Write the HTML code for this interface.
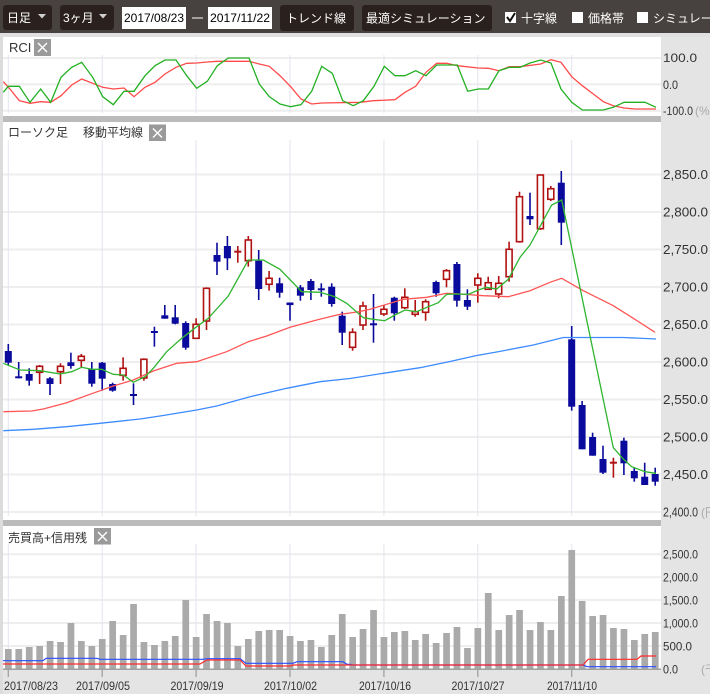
<!DOCTYPE html>
<html><head><meta charset="utf-8">
<style>
html,body{margin:0;padding:0;background:#e4e4e4;}
svg{display:block;font-family:"Liberation Sans","Noto Sans CJK JP",sans-serif;}
</style></head>
<body>
<svg width="710" height="694" viewBox="0 0 710 694" xmlns="http://www.w3.org/2000/svg" style="overflow:hidden">
<rect x="0" y="0" width="710" height="694" fill="#e4e4e4"/>
<!-- toolbar -->
<rect x="0" y="0" width="710" height="33" fill="#47423f"/>
<rect x="3" y="5" width="49" height="25" rx="3" fill="#2a201e"/>
<text x="7" y="22" font-size="12" fill="#fff">日足</text>
<polygon points="38,14 46,14 42,18.5" fill="#cfcfcf"/>
<rect x="60" y="5" width="54" height="25" rx="3" fill="#2a201e"/>
<text x="63" y="22" font-size="12" fill="#fff">3ヶ月</text>
<polygon points="99,14 107,14 103,18.5" fill="#cfcfcf"/>
<rect x="122" y="7" width="64" height="22" fill="#fff"/>
<text x="124" y="22" font-size="12" fill="#000" textLength="60" lengthAdjust="spacingAndGlyphs">2017/08/23</text>
<line x1="192" y1="18" x2="203" y2="18" stroke="#ddd" stroke-width="1.2"/>
<rect x="208" y="7" width="64" height="22" fill="#fff"/>
<text x="210" y="22" font-size="12" fill="#000" textLength="60" lengthAdjust="spacingAndGlyphs">2017/11/22</text>
<rect x="280" y="5" width="74" height="26" rx="3" fill="#2a201e"/>
<text x="286" y="22.5" font-size="12" fill="#fff">トレンド線</text>
<rect x="362" y="5" width="130" height="26" rx="3" fill="#2a201e"/>
<text x="366" y="22.5" font-size="12" fill="#fff">最適シミュレーション</text>
<rect x="505" y="12" width="11" height="11" fill="#fff"/>
<path d="M507,17 L510,21 L515,13" fill="none" stroke="#111" stroke-width="2"/>
<text x="521" y="22.5" font-size="12" fill="#fff">十字線</text>
<rect x="572" y="12" width="11" height="11" fill="#fff"/>
<text x="588" y="22.5" font-size="12" fill="#fff">価格帯</text>
<rect x="637" y="12" width="11" height="11" fill="#fff"/>
<text x="653" y="22.5" font-size="12" fill="#fff">シミュレーション</text>

<!-- panel backgrounds -->
<rect x="0" y="33" width="710" height="4" fill="#e0e0e0"/>
<rect x="3" y="37" width="658" height="79" fill="#fff"/>
<rect x="0" y="116" width="661" height="6" fill="#bbbbbb"/>
<rect x="3" y="122" width="658" height="398" fill="#fff"/>
<rect x="0" y="520" width="661" height="6" fill="#bbbbbb"/>
<rect x="3" y="526" width="658" height="143" fill="#fff"/>

<!-- RCI grid -->
<g stroke="#eeeeee" stroke-width="2">
<line x1="3" y1="58" x2="661" y2="58"/><line x1="3" y1="84.3" x2="661" y2="84.3"/><line x1="3" y1="110.7" x2="661" y2="110.7"/>
</g>
<g stroke="#e4e4ee" stroke-width="1">
<line x1="8.3" y1="55" x2="8.3" y2="113"/><line x1="102.2" y1="55" x2="102.2" y2="113"/><line x1="196.1" y1="55" x2="196.1" y2="113"/><line x1="290" y1="55" x2="290" y2="113"/><line x1="383.9" y1="55" x2="383.9" y2="113"/><line x1="477.8" y1="55" x2="477.8" y2="113"/><line x1="571.7" y1="55" x2="571.7" y2="113"/>
</g>
<text x="9" y="52" font-size="13" fill="#333">RCI</text>
<rect x="34" y="39" width="17" height="17" fill="#9a9a9a"/>
<path d="M38,43 L47,52 M47,43 L38,52" stroke="#fff" stroke-width="1.4"/>
<polyline fill="none" stroke="#ff4a4a" stroke-width="1.3" points="3.3,81.7 10,89 19.3,100.7 30,103.3 40.7,101.7 50.7,102.3 61,95.7 71.7,85 81.7,79 92.7,83.3 102.7,87.3 113.3,89 124,88 134,96.7 145,87.3 155,82.3 165,74 176,67.3 186.7,63.3 196.7,63 207.3,62 217.3,61.3 249,61.3 259.3,64 269.3,66.3 280,75.7 290.7,86.7 301,99 311.7,104 321.7,103 360,102.3 373.3,100.7 395,99.7 405,92.3 415.7,86.3 426,72.3 436.7,63.3 446.7,63.3 457.3,65.7 478.3,68 488.3,68.3 499,70.7 509.3,66.7 520,66.7 540.7,64 551,59.7 561,62.3 571.7,76.7 582.3,85.7 593.3,94 603.3,101.7 613.3,105.7 624,108 635,109 656,109"/>
<polyline fill="none" stroke="#22b022" stroke-width="1.3" points="3.3,92.3 8.3,86.3 19.3,86.3 30,102.3 40.7,89 50.7,102.3 61,77.3 71.7,67.3 81.7,62.3 92.7,77.3 102.7,96.7 113.3,104.7 124,91.3 134,91.3 145,75.7 155,65.7 165,60 176,60 186.7,75.7 196.7,88.3 207.3,81.3 217.3,65.7 228.3,58 249,58 259.3,84 269.3,96.7 280,104 290.7,106.7 301,104.7 311.7,91.3 321.7,66.3 332.3,73.3 342.7,100.7 353.3,105.7 363.3,100.7 374,86.3 384.3,66.3 395,75.7 405,75.7 415.7,70.7 426,75.7 436.7,65 457.3,65 467.7,91.3 478.3,89 488.3,89 499,70.7 509.3,67.3 520,67.3 530,63 540.7,60 551,63 561,89 571.7,102.3 582.3,110 603.3,110 613.3,107.3 624,102.3 645,102.3 656,107.3"/>
<g font-size="12" fill="#333">
<text x="663" y="62" textLength="34" lengthAdjust="spacingAndGlyphs">100.0</text>
<text x="663" y="89" textLength="15" lengthAdjust="spacingAndGlyphs">0.0</text>
<text x="663" y="115" textLength="30" lengthAdjust="spacingAndGlyphs">-100.0</text>
</g>
<text x="695" y="115" font-size="12" fill="#aaa">(%)</text>

<!-- main grid -->
<g stroke="#eeeeee" stroke-width="2">
<line x1="3" y1="174.5" x2="661" y2="174.5"/><line x1="3" y1="212" x2="661" y2="212"/><line x1="3" y1="249.5" x2="661" y2="249.5"/><line x1="3" y1="287" x2="661" y2="287"/><line x1="3" y1="324.5" x2="661" y2="324.5"/><line x1="3" y1="362" x2="661" y2="362"/><line x1="3" y1="399.5" x2="661" y2="399.5"/><line x1="3" y1="437" x2="661" y2="437"/><line x1="3" y1="474.5" x2="661" y2="474.5"/><line x1="3" y1="512" x2="661" y2="512"/>
</g>
<g stroke="#e4e4ee" stroke-width="1">
<line x1="8.3" y1="140" x2="8.3" y2="516"/><line x1="102.2" y1="140" x2="102.2" y2="516"/><line x1="196.1" y1="140" x2="196.1" y2="516"/><line x1="290" y1="140" x2="290" y2="516"/><line x1="383.9" y1="140" x2="383.9" y2="516"/><line x1="477.8" y1="140" x2="477.8" y2="516"/><line x1="571.7" y1="140" x2="571.7" y2="516"/>
</g>
<text x="8" y="136.5" font-size="12" fill="#333">ローソク足</text>
<text x="83" y="136.5" font-size="12" fill="#333">移動平均線</text>
<rect x="149" y="124.5" width="17" height="16.5" fill="#9a9a9a"/>
<path d="M153,128.5 L162,137.5 M162,128.5 L153,137.5" stroke="#fff" stroke-width="1.4"/>
<g font-size="13" fill="#333">
<text x="663" y="179" textLength="45" lengthAdjust="spacingAndGlyphs">2,850.0</text>
<text x="663" y="216.5" textLength="45" lengthAdjust="spacingAndGlyphs">2,800.0</text>
<text x="663" y="254" textLength="45" lengthAdjust="spacingAndGlyphs">2,750.0</text>
<text x="663" y="291.5" textLength="45" lengthAdjust="spacingAndGlyphs">2,700.0</text>
<text x="663" y="329" textLength="45" lengthAdjust="spacingAndGlyphs">2,650.0</text>
<text x="663" y="366.5" textLength="45" lengthAdjust="spacingAndGlyphs">2,600.0</text>
<text x="663" y="404" textLength="45" lengthAdjust="spacingAndGlyphs">2,550.0</text>
<text x="663" y="441.5" textLength="45" lengthAdjust="spacingAndGlyphs">2,500.0</text>
<text x="663" y="479" textLength="45" lengthAdjust="spacingAndGlyphs">2,450.0</text>
<text x="663" y="516.5" textLength="35" lengthAdjust="spacingAndGlyphs">2,400.0</text>
</g>
<text x="701" y="516.5" font-size="12" fill="#aaa">(円)</text>

<!-- candles -->
<g stroke-width="1.6">
<g stroke="#0a0a9c" fill="#0a0a9c">
<line x1="8.3" y1="344" x2="8.3" y2="365"/><rect x="4.8" y="351" width="7" height="11.7" stroke="none"/>
<line x1="18.7" y1="362" x2="18.7" y2="378.3"/><line x1="15.2" y1="377.3" x2="22.2" y2="377.3" stroke-width="2"/>
<line x1="29.2" y1="368.3" x2="29.2" y2="385.7"/><rect x="25.7" y="374" width="7" height="6.7" stroke="none"/>
<line x1="50" y1="377" x2="50" y2="395"/><rect x="46.5" y="378.3" width="7" height="5.7" stroke="none"/>
<line x1="70.9" y1="352.7" x2="70.9" y2="368.7"/><rect x="67.4" y="362.3" width="7" height="3.7" stroke="none"/>
<line x1="91.8" y1="362" x2="91.8" y2="386.7"/><rect x="88.3" y="369" width="7" height="14.7" stroke="none"/>
<line x1="102.2" y1="362" x2="102.2" y2="390.7"/><rect x="98.7" y="362.7" width="7" height="16" stroke="none"/>
<line x1="112.6" y1="382.7" x2="112.6" y2="391.7"/><rect x="109.1" y="384" width="7" height="6.7" stroke="none"/>
<line x1="133.5" y1="383.3" x2="133.5" y2="405"/><line x1="130" y1="395" x2="137" y2="395" stroke-width="2"/>
<line x1="154.4" y1="326.7" x2="154.4" y2="346.7"/><line x1="150.9" y1="332" x2="157.9" y2="332" stroke-width="2"/>
<line x1="164.8" y1="305" x2="164.8" y2="318.7"/><rect x="161.3" y="315.3" width="7" height="3.4" stroke="none"/>
<line x1="175.2" y1="305" x2="175.2" y2="324.3"/><rect x="171.7" y="317.3" width="7" height="6.4" stroke="none"/>
<line x1="185.7" y1="321.3" x2="185.7" y2="349.7"/><rect x="182.2" y="323" width="7" height="24.7" stroke="none"/>
<line x1="217" y1="242.7" x2="217" y2="275"/><rect x="213.5" y="255" width="7" height="6.7" stroke="none"/>
<line x1="227.4" y1="236" x2="227.4" y2="270"/><rect x="223.9" y="246" width="7" height="12.3" stroke="none"/>
<line x1="258.7" y1="250" x2="258.7" y2="300"/><rect x="255.2" y="260.7" width="7" height="28.3" stroke="none"/>
<line x1="279.6" y1="277.7" x2="279.6" y2="297.7"/><rect x="276.1" y="283.3" width="7" height="9.4" stroke="none"/>
<line x1="290" y1="302.7" x2="290" y2="320.7"/><rect x="286.5" y="302.5" width="7" height="2.6" stroke="none"/>
<line x1="300.4" y1="285" x2="300.4" y2="300.7"/><rect x="296.9" y="287.3" width="7" height="8.4" stroke="none"/>
<line x1="310.9" y1="279" x2="310.9" y2="300"/><rect x="307.4" y="281" width="7" height="9" stroke="none"/>
<line x1="321.3" y1="283.3" x2="321.3" y2="296.7"/><line x1="317.8" y1="289.3" x2="324.8" y2="289.3" stroke-width="2"/>
<line x1="331.7" y1="283.3" x2="331.7" y2="306.7"/><rect x="328.2" y="286.7" width="7" height="17.3" stroke="none"/>
<line x1="342.2" y1="311.7" x2="342.2" y2="345"/><rect x="338.7" y="315.7" width="7" height="17" stroke="none"/>
<line x1="373.5" y1="294" x2="373.5" y2="342.7"/><line x1="370" y1="324.3" x2="377" y2="324.3" stroke-width="2"/>
<line x1="394.3" y1="296.7" x2="394.3" y2="320.7"/><rect x="390.8" y="297.7" width="7" height="15.6" stroke="none"/>
<line x1="436.1" y1="280.7" x2="436.1" y2="296.7"/><rect x="432.6" y="282" width="7" height="11.3" stroke="none"/>
<line x1="456.9" y1="262" x2="456.9" y2="306.7"/><rect x="453.4" y="264" width="7" height="36.7" stroke="none"/>
<line x1="467.4" y1="289.3" x2="467.4" y2="310"/><rect x="463.9" y="300" width="7" height="6.7" stroke="none"/>
<line x1="530" y1="192.7" x2="530" y2="225"/><rect x="526.5" y="216" width="7" height="3.3" stroke="none"/>
<line x1="561.3" y1="171" x2="561.3" y2="245"/><rect x="557.8" y="182.7" width="7" height="40" stroke="none"/>
<line x1="571.7" y1="326" x2="571.7" y2="410.7"/><rect x="568.2" y="339.3" width="7" height="67.4" stroke="none"/>
<line x1="582.1" y1="401" x2="582.1" y2="449.3"/><rect x="578.6" y="405" width="7" height="44.3" stroke="none"/>
<line x1="592.6" y1="432.7" x2="592.6" y2="455.7"/><rect x="589.1" y="437" width="7" height="18.7" stroke="none"/>
<line x1="603" y1="445.7" x2="603" y2="474"/><rect x="599.5" y="459" width="7" height="13.7" stroke="none"/>
<line x1="623.9" y1="437.7" x2="623.9" y2="475"/><rect x="620.4" y="440.7" width="7" height="22.6" stroke="none"/>
<line x1="634.3" y1="467.7" x2="634.3" y2="481.7"/><rect x="630.8" y="471" width="7" height="7.3" stroke="none"/>
<line x1="644.7" y1="462.7" x2="644.7" y2="485"/><rect x="641.2" y="476.7" width="7" height="8.3" stroke="none"/>
<line x1="655.2" y1="467.7" x2="655.2" y2="485.7"/><rect x="651.7" y="474" width="7" height="7.7" stroke="none"/>
</g>
<g stroke="#b01212" fill="#fff">
<line x1="39.6" y1="365" x2="39.6" y2="384"/><rect x="36.6" y="366.3" width="6" height="6"/>
<line x1="60.5" y1="363.3" x2="60.5" y2="384"/><rect x="57.5" y="366.3" width="6" height="5.4"/>
<line x1="81.3" y1="354" x2="81.3" y2="367.3"/><rect x="78.3" y="356.3" width="6" height="4"/>
<line x1="123.1" y1="357.3" x2="123.1" y2="380.7"/><rect x="120.1" y="368.3" width="6" height="7"/>
<line x1="143.9" y1="358.3" x2="143.9" y2="380.7"/><rect x="140.9" y="359.3" width="6" height="18.7"/>
<line x1="196.1" y1="318.3" x2="196.1" y2="338.3"/><rect x="193.1" y="324.3" width="6" height="14"/>
<line x1="206.5" y1="287.3" x2="206.5" y2="330"/><rect x="203.5" y="288.3" width="6" height="32.7"/>
<line x1="237.8" y1="246" x2="237.8" y2="262.7"/><line x1="234.3" y1="251.7" x2="241.3" y2="251.7" stroke-width="2"/>
<line x1="248.3" y1="236" x2="248.3" y2="266.7"/><rect x="245.3" y="240" width="6" height="20.7"/>
<line x1="269.1" y1="271" x2="269.1" y2="290.7"/><rect x="266.1" y="278.3" width="6" height="6"/>
<line x1="352.6" y1="328.3" x2="352.6" y2="350.7"/><rect x="349.6" y="332.3" width="6" height="15"/>
<line x1="363" y1="301.7" x2="363" y2="330"/><rect x="360" y="306" width="6" height="19"/>
<line x1="383.9" y1="305" x2="383.9" y2="316"/><rect x="380.9" y="309.3" width="6" height="4.7"/>
<line x1="404.8" y1="288.3" x2="404.8" y2="309"/><rect x="401.8" y="297.3" width="6" height="10.4"/>
<line x1="415.2" y1="300" x2="415.2" y2="316.7"/><rect x="412.2" y="311.7" width="6" height="2.6"/>
<line x1="425.6" y1="299.3" x2="425.6" y2="320.7"/><rect x="422.6" y="301.7" width="6" height="10.6"/>
<line x1="446.5" y1="269" x2="446.5" y2="287.3"/><rect x="443.5" y="270.7" width="6" height="8.6"/>
<line x1="477.8" y1="273.3" x2="477.8" y2="302.7"/><rect x="474.8" y="278.3" width="6" height="6.7"/>
<line x1="488.2" y1="276.7" x2="488.2" y2="290"/><rect x="485.2" y="282.7" width="6" height="6.6"/>
<line x1="498.7" y1="276" x2="498.7" y2="298.3"/><rect x="495.7" y="283.3" width="6" height="10.7"/>
<line x1="509.1" y1="241.7" x2="509.1" y2="281.7"/><rect x="506.1" y="249.3" width="6" height="27.4"/>
<line x1="519.5" y1="191.7" x2="519.5" y2="242.7"/><rect x="516.5" y="196.7" width="6" height="45"/>
<line x1="540.4" y1="175" x2="540.4" y2="230"/><rect x="537.4" y="175" width="6" height="53.7"/>
<line x1="550.8" y1="186" x2="550.8" y2="201"/><rect x="547.8" y="188.7" width="6" height="10.6"/>
<line x1="613.4" y1="457.7" x2="613.4" y2="477.7"/><line x1="609.9" y1="462.7" x2="616.9" y2="462.7" stroke-width="2"/>
</g>
</g>
<!-- moving averages -->
<polyline fill="none" stroke="#3d8bff" stroke-width="1.3" points="3.3,430.7 33.3,429.3 66.7,426.7 100,423.3 140,419 160,416 196.7,410 216.7,406 250,396.7 286.7,388.3 320,381.7 350,378.5 383.3,373.3 420,367.7 450,361.5 476.7,355.5 496.7,352 533.3,345 563.3,337.5 623.3,337.5 656,339"/>
<polyline fill="none" stroke="#ff5555" stroke-width="1.3" points="3.3,411.7 31.7,411 43.3,409 66.7,402.7 90,394.3 113.3,386 133.3,380 153.3,371 176.7,363.3 196.7,361.7 226.7,351.7 248.3,341.7 266.7,336 290,327.3 316.7,320 340,314.3 350,313 360,311.5 370,309.3 403.3,299.3 426.7,297.3 446.7,293.3 460,294 483.3,295.7 508.3,296.7 530,290.7 550,282.3 561.7,278.3 583.3,290.7 613.3,305.7 633.3,318.3 655,332.3"/>
<polyline fill="none" stroke="#2fb52f" stroke-width="1.3" points="3.3,363.3 20,370 40,370.7 60,374 71.7,371.7 81.7,367.3 91.7,369.3 101.7,369.3 113.3,374.3 123.3,375 133.3,382.3 145,376.7 153.3,368.3 166.7,351.7 181.7,338.3 196.7,326.7 208.3,318.3 228.3,296 248.3,260 263.3,260 280,269.3 301.7,291.7 320,292.3 335,296.7 346.7,303.3 363.3,317.7 373.3,319.3 384.7,320.7 395,315 405,310 416.7,311.7 428.3,306.7 438.3,302.7 446.7,294.3 456.7,294 468.3,294.3 478.3,290 486.7,287.3 496.7,289 508.3,279.3 520,257.3 530,245 541.7,223.3 551.7,205 561.7,200 613.3,447.7 623.3,459 631.7,466.7 645,471.7 656,473.3"/>

<!-- volume panel -->
<g stroke="#eeeeee" stroke-width="2">
<line x1="3" y1="554.3" x2="661" y2="554.3"/><line x1="3" y1="577.3" x2="661" y2="577.3"/><line x1="3" y1="600" x2="661" y2="600"/><line x1="3" y1="623" x2="661" y2="623"/><line x1="3" y1="646" x2="661" y2="646"/>
</g>
<g stroke="#e4e4ee" stroke-width="1">
<line x1="8.3" y1="544" x2="8.3" y2="669"/><line x1="102.2" y1="544" x2="102.2" y2="669"/><line x1="196.1" y1="544" x2="196.1" y2="669"/><line x1="290" y1="544" x2="290" y2="669"/><line x1="383.9" y1="544" x2="383.9" y2="669"/><line x1="477.8" y1="544" x2="477.8" y2="669"/><line x1="571.7" y1="544" x2="571.7" y2="669"/>
</g>
<text x="8" y="542" font-size="12" fill="#333">売買高+信用残</text>
<rect x="94" y="528" width="17" height="16.5" fill="#9a9a9a"/>
<path d="M98,532 L107,541 M107,532 L98,541" stroke="#fff" stroke-width="1.4"/>
<g fill="#aaaaaa">
<rect x="5" y="649" width="6.7" height="20"/>
<rect x="15.4" y="649" width="6.7" height="20"/>
<rect x="25.9" y="647" width="6.7" height="22"/>
<rect x="36.3" y="646" width="6.7" height="23"/>
<rect x="46.7" y="641" width="6.7" height="28"/>
<rect x="57.2" y="642" width="6.7" height="27"/>
<rect x="67.6" y="623" width="6.7" height="46"/>
<rect x="78" y="641" width="6.7" height="28"/>
<rect x="88.5" y="646" width="6.7" height="23"/>
<rect x="98.9" y="639" width="6.7" height="30"/>
<rect x="109.3" y="621" width="6.7" height="48"/>
<rect x="119.8" y="635" width="6.7" height="34"/>
<rect x="130.2" y="604" width="6.7" height="65"/>
<rect x="140.6" y="642" width="6.7" height="27"/>
<rect x="151.1" y="645" width="6.7" height="24"/>
<rect x="161.5" y="641" width="6.7" height="28"/>
<rect x="171.9" y="636" width="6.7" height="33"/>
<rect x="182.4" y="600" width="6.7" height="69"/>
<rect x="192.8" y="637" width="6.7" height="32"/>
<rect x="203.2" y="614" width="6.7" height="55"/>
<rect x="213.7" y="621" width="6.7" height="48"/>
<rect x="224.1" y="623" width="6.7" height="46"/>
<rect x="234.5" y="646" width="6.7" height="23"/>
<rect x="245" y="639" width="6.7" height="30"/>
<rect x="255.4" y="631" width="6.7" height="38"/>
<rect x="265.8" y="630" width="6.7" height="39"/>
<rect x="276.3" y="630" width="6.7" height="39"/>
<rect x="286.7" y="636" width="6.7" height="33"/>
<rect x="297.1" y="641" width="6.7" height="28"/>
<rect x="307.6" y="640" width="6.7" height="29"/>
<rect x="318" y="647" width="6.7" height="22"/>
<rect x="328.4" y="635" width="6.7" height="34"/>
<rect x="338.9" y="614" width="6.7" height="55"/>
<rect x="349.3" y="637" width="6.7" height="32"/>
<rect x="359.7" y="629" width="6.7" height="40"/>
<rect x="370.2" y="610" width="6.7" height="59"/>
<rect x="380.6" y="637" width="6.7" height="32"/>
<rect x="391" y="632" width="6.7" height="37"/>
<rect x="401.5" y="631" width="6.7" height="38"/>
<rect x="411.9" y="640" width="6.7" height="29"/>
<rect x="422.3" y="634" width="6.7" height="35"/>
<rect x="432.8" y="643" width="6.7" height="26"/>
<rect x="443.2" y="633" width="6.7" height="36"/>
<rect x="453.6" y="627" width="6.7" height="42"/>
<rect x="464.1" y="648" width="6.7" height="21"/>
<rect x="474.5" y="628" width="6.7" height="41"/>
<rect x="484.9" y="593" width="6.7" height="76"/>
<rect x="495.4" y="630" width="6.7" height="39"/>
<rect x="505.8" y="615" width="6.7" height="54"/>
<rect x="516.2" y="610" width="6.7" height="59"/>
<rect x="526.7" y="630" width="6.7" height="39"/>
<rect x="537.1" y="622" width="6.7" height="47"/>
<rect x="547.5" y="630" width="6.7" height="39"/>
<rect x="558" y="596" width="6.7" height="73"/>
<rect x="568.4" y="550" width="6.7" height="119"/>
<rect x="578.8" y="601" width="6.7" height="68"/>
<rect x="589.3" y="616" width="6.7" height="53"/>
<rect x="599.7" y="615" width="6.7" height="54"/>
<rect x="610.1" y="628" width="6.7" height="41"/>
<rect x="620.6" y="629" width="6.7" height="40"/>
<rect x="631" y="640" width="6.7" height="29"/>
<rect x="641.4" y="634" width="6.7" height="35"/>
<rect x="651.9" y="632" width="6.7" height="37"/>
</g>
<polyline fill="none" stroke="#2a4cff" stroke-width="1.2" points="3,660.7 43,660.7 46,658.3 97,658.3 100,659.3 203,659.3 207,658.7 240,658.7 246,663.3 293,663.3 297,661.7 343,661.7 347,664.3 350,664.3 353,665 583,665 587,666.7 656,666.7"/>
<polyline fill="none" stroke="#ff2a2a" stroke-width="1.2" points="3,664 200,664 207,660 240,660 246,666 290,666 293,665 583,665 588,659.3 637,659.3 641,656 656,656"/>
<line x1="3" y1="669.2" x2="661" y2="669.2" stroke="#a0a0a0" stroke-width="1.5"/>
<g stroke="#a0a0a0" stroke-width="1.3">
<line x1="8.3" y1="669" x2="8.3" y2="677"/><line x1="102.2" y1="669" x2="102.2" y2="677"/><line x1="196.1" y1="669" x2="196.1" y2="677"/><line x1="290" y1="669" x2="290" y2="677"/><line x1="383.9" y1="669" x2="383.9" y2="677"/><line x1="477.8" y1="669" x2="477.8" y2="677"/><line x1="571.7" y1="669" x2="571.7" y2="677"/>
</g>
<g font-size="12" fill="#333">
<text x="663" y="558.5" textLength="35" lengthAdjust="spacingAndGlyphs">2,500.0</text>
<text x="663" y="581.5" textLength="35" lengthAdjust="spacingAndGlyphs">2,000.0</text>
<text x="663" y="604.5" textLength="35" lengthAdjust="spacingAndGlyphs">1,500.0</text>
<text x="663" y="627.5" textLength="35" lengthAdjust="spacingAndGlyphs">1,000.0</text>
<text x="663" y="650.5" textLength="29" lengthAdjust="spacingAndGlyphs">500.0</text>
<text x="663" y="673.5" textLength="15" lengthAdjust="spacingAndGlyphs">0.0</text>
</g>
<text x="701" y="673.5" font-size="12" fill="#aaa">(千株)</text>
<g font-size="12" fill="#333">
<text x="4" y="690" textLength="54" lengthAdjust="spacingAndGlyphs">2017/08/23</text>
<text x="76" y="690" textLength="54" lengthAdjust="spacingAndGlyphs">2017/09/05</text>
<text x="170.5" y="690" textLength="53" lengthAdjust="spacingAndGlyphs">2017/09/19</text>
<text x="264" y="690" textLength="53" lengthAdjust="spacingAndGlyphs">2017/10/02</text>
<text x="359" y="690" textLength="52" lengthAdjust="spacingAndGlyphs">2017/10/16</text>
<text x="451.5" y="690" textLength="53" lengthAdjust="spacingAndGlyphs">2017/10/27</text>
<text x="547" y="690" textLength="50" lengthAdjust="spacingAndGlyphs">2017/11/10</text>
</g>
<rect x="0" y="37" width="3" height="657" fill="#dcdcdc"/>
</svg>
</body></html>
